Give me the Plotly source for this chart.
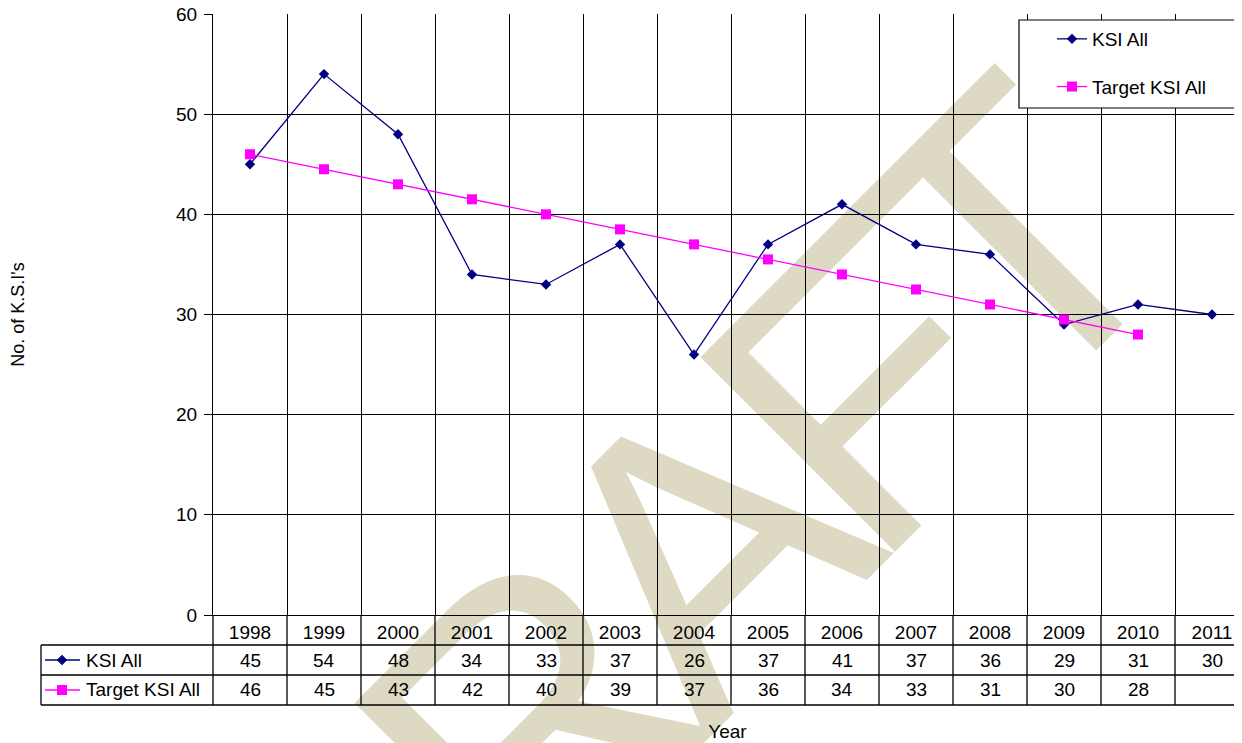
import math
import plotly.graph_objects as go

# ---------------- data ----------------
years = [1998, 1999, 2000, 2001, 2002, 2003, 2004, 2005, 2006, 2007, 2008, 2009, 2010, 2011]
ksi_all = [45, 54, 48, 34, 33, 37, 26, 37, 41, 37, 36, 29, 31, 30]
target_ksi_all = [46, 44.5, 43, 41.5, 40, 38.5, 37, 35.5, 34, 32.5, 31, 29.5, 28, None]
series_names = ["KSI All", "Target KSI All"]
y_ticks = [0, 10, 20, 30, 40, 50, 60]
watermark_text = "DRAFT"

# ---------------- layout constants ----------------
PAGE_OFF = 8                      # default body margin of the html page
W, H = 1242 - PAGE_OFF, 743 - PAGE_OFF
ML, MR, MT, MB = 213 - PAGE_OFF, 0, 14 - PAGE_OFF, 128
PW, PH = W - ML - MR, H - MT - MB
FONT = "Liberation Sans"
FS = 19
NAVY = "#000080"
MAGENTA = "#FF00FF"
WM_COLOR = "#DDD9C3"
GRID = "#000000"


def px_x(px):
    """page pixel x -> paper x"""
    return (px - PAGE_OFF - ML) / PW


def px_y(py):
    """page pixel y -> paper y"""
    return (H - MB - (py - PAGE_OFF)) / PH


cats = [str(y) for y in years]
n = len(cats)
col_w = 74.0
x_right = -0.5 + PW / col_w


def excel_round(v):
    return "" if v is None else str(int(math.floor(v + 0.5)))


fig = go.Figure()
fig.add_trace(go.Scatter(
    x=cats, y=ksi_all, name=series_names[0], mode="lines+markers",
    line=dict(color=NAVY, width=1.3),
    marker=dict(symbol="diamond", size=8, color=NAVY),
    legendgroup="g1"))
fig.add_trace(go.Scatter(
    x=cats, y=target_ksi_all, name=series_names[1], mode="lines+markers",
    line=dict(color=MAGENTA, width=1.3),
    marker=dict(symbol="square", size=10, color=MAGENTA),
    legendgroup="g2"))

shapes = []
annotations = []

# ---------------- data table below the plot ----------------
row_lines_px = [645, 675, 705]
table_left_px = 41
for py in row_lines_px:
    shapes.append(dict(type="line", xref="paper", yref="paper",
                       x0=px_x(table_left_px), x1=1.05, y0=px_y(py), y1=px_y(py),
                       line=dict(color="black", width=1.3)))
shapes.append(dict(type="line", xref="paper", yref="paper",
                   x0=px_x(table_left_px), x1=px_x(table_left_px),
                   y0=px_y(row_lines_px[0]), y1=px_y(row_lines_px[-1]),
                   line=dict(color="black", width=1.3)))
shapes.append(dict(type="line", xref="paper", yref="paper", x0=0, x1=0,
                   y0=0, y1=px_y(row_lines_px[-1]), line=dict(color="black", width=1.3)))
for k in range(1, n + 1):
    shapes.append(dict(type="line", xref="x", yref="paper", x0=k - 0.5, x1=k - 0.5,
                       y0=0, y1=px_y(row_lines_px[-1]), line=dict(color="black", width=1.3)))

rows = [(series_names[0], ksi_all, NAVY, "diamond"),
        (series_names[1], target_ksi_all, MAGENTA, "square")]
for r, (name, vals, color, sym) in enumerate(rows):
    cy = px_y((row_lines_px[r] + row_lines_px[r + 1]) / 2)
    # legend key in the table
    shapes.append(dict(type="line", xref="paper", yref="paper",
                       x0=px_x(45), x1=px_x(80), y0=cy, y1=cy,
                       line=dict(color=color, width=1.3)))
    if sym == "diamond":
        shapes.append(dict(type="path", xref="paper", yref="paper",
                           xsizemode="pixel", ysizemode="pixel",
                           xanchor=px_x(62), yanchor=cy,
                           path="M -5 0 L 0 5 L 5 0 L 0 -5 Z",
                           fillcolor=color, line=dict(color=color, width=0.5)))
    else:
        shapes.append(dict(type="rect", xref="paper", yref="paper",
                           xsizemode="pixel", ysizemode="pixel",
                           xanchor=px_x(62), yanchor=cy,
                           x0=-5, x1=5, y0=-5, y1=5,
                           fillcolor=color, line=dict(color=color, width=0)))
    annotations.append(dict(xref="paper", yref="paper", x=px_x(84), y=cy,
                            text=name, showarrow=False, xanchor="left", yanchor="middle",
                            font=dict(family=FONT, size=FS, color="black")))
    for i, v in enumerate(vals):
        annotations.append(dict(xref="x", yref="paper", x=i, y=cy,
                                text=excel_round(v), showarrow=False,
                                xanchor="center", yanchor="middle",
                                font=dict(family=FONT, size=FS, color="black")))

# ---------------- legend frame (extends past the right edge) ----------------
shapes.append(dict(type="rect", xref="paper", yref="paper", layer="above",
                   x0=px_x(1019), x1=px_x(1262), y0=px_y(108), y1=px_y(20),
                   fillcolor="white", line=dict(color="black", width=1.2)))

# ---------------- DRAFT watermark (behind everything) ----------------
wm_adv = [0.722, 0.722, 0.667, 0.611, 0.611]
wm_em_x = 350.0
wm_last_base = (1125.0, 353.0)    # page px: baseline centre of the last letter
wm_font = 400
wm_h = 166.0 - 0.0115 * wm_font + 0.093 * wm_font
ang = math.radians(45)
ux, uy = math.cos(ang), -math.sin(ang)
nx, ny = -math.sin(ang), -math.cos(ang)
last_off = (sum(wm_adv) - wm_adv[-1] / 2) * wm_em_x
origin = (wm_last_base[0] - last_off * ux, wm_last_base[1] - last_off * uy)
s = 0.0
for ch, adv in zip(watermark_text, wm_adv):
    sc = s + adv * wm_em_x / 2
    s += adv * wm_em_x
    cx = origin[0] + sc * ux + wm_h * nx
    cy = origin[1] + sc * uy + wm_h * ny
    shapes.append(dict(type="rect", xref="paper", yref="paper", layer="below",
                       x0=px_x(cx) - 0.001, x1=px_x(cx) + 0.001,
                       y0=px_y(cy) - 0.001, y1=px_y(cy) + 0.001,
                       line=dict(width=0), fillcolor="rgba(0,0,0,0)",
                       label=dict(text=ch, textangle=-45, textposition="middle center",
                                  padding=0,
                                  font=dict(family=FONT, size=wm_font, color=WM_COLOR))))

fig.update_layout(
    width=W, height=H,
    margin=dict(l=ML, r=MR, t=MT, b=MB, autoexpand=False),
    paper_bgcolor="white", plot_bgcolor="rgba(0,0,0,0)",
    font=dict(family=FONT, size=FS, color="black"),
    showlegend=True,
    legend=dict(x=px_x(1019), y=px_y(20), xanchor="left", yanchor="top",
                bgcolor="rgba(0,0,0,0)", borderwidth=0,
                font=dict(family=FONT, size=FS, color="black"),
                traceorder="grouped", tracegroupgap=20, indentation=33),
    shapes=shapes, annotations=annotations,
)
fig.update_xaxes(
    type="category", categoryorder="array", categoryarray=cats,
    range=[-0.5, x_right], tickson="boundaries",
    showgrid=True, gridcolor=GRID, gridwidth=1.2,
    showline=True, linecolor="black", linewidth=1.3,
    ticks="", tickfont=dict(family=FONT, size=FS, color="black"),
    title=dict(text="Year", font=dict(family=FONT, size=FS, color="black"), standoff=82),
    zeroline=False, fixedrange=True,
)
fig.update_yaxes(
    range=[0, 60], tickmode="array", tickvals=y_ticks,
    showgrid=True, gridcolor=GRID, gridwidth=1.2,
    showline=True, linecolor="black", linewidth=1.3,
    ticks="outside", ticklen=8, tickcolor="black", tickwidth=1.3,
    ticklabeloverflow="allow", ticklabelstandoff=3,
    tickfont=dict(family=FONT, size=FS, color="black"),
    title=dict(text="No. of K.S.I's", font=dict(family=FONT, size=18, color="black"), standoff=147),
    zeroline=False, fixedrange=True,
)

fig.write_html("out.html")
